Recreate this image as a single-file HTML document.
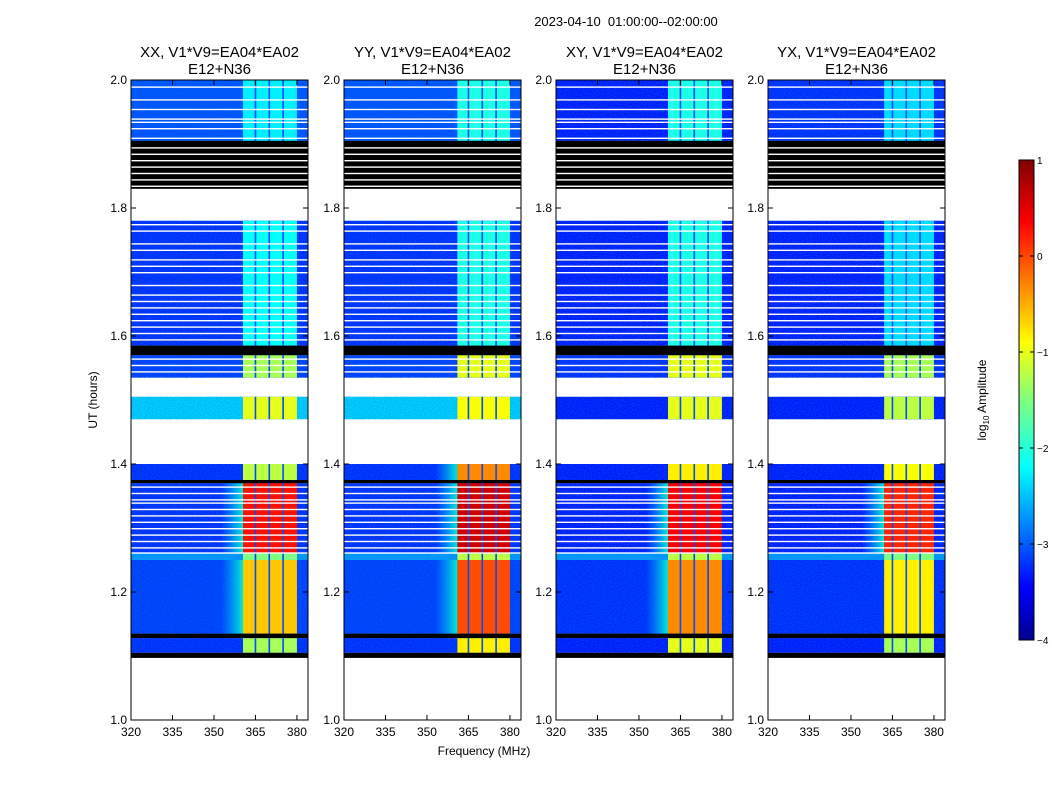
<!DOCTYPE html>
<html><head><meta charset="utf-8"><style>
body{margin:0;background:#fff;}
svg{display:block;font-family:"Liberation Sans",sans-serif;}
</style></head><body>
<svg id="fig" width="1050" height="800" xmlns="http://www.w3.org/2000/svg">
<defs>
<filter id="noise" x="0" y="0" width="100%" height="100%">
<feTurbulence type="fractalNoise" baseFrequency="0.9" numOctaves="1" seed="3"/>
<feColorMatrix type="matrix" values="0 0 0 0 0  0 0 0 0 0.2  0 0 0 0 0.8  0 0 0 -2.2 1.6"/>
</filter>
<linearGradient id="skirt" x1="0" y1="0" x2="1" y2="0">
<stop offset="0" stop-color="#00c8ff" stop-opacity="0"/><stop offset="1" stop-color="#00ffd0" stop-opacity="0.9"/>
</linearGradient>
<linearGradient id="cbar" x1="0" y1="1" x2="0" y2="0">
<stop offset="0" stop-color="#00008f"/><stop offset="0.11" stop-color="#0000ff"/>
<stop offset="0.36" stop-color="#00ffff"/><stop offset="0.5" stop-color="#80ff80"/><stop offset="0.62" stop-color="#ffff00"/>
<stop offset="0.87" stop-color="#ff0000"/><stop offset="1" stop-color="#800000"/>
</linearGradient>
</defs>
<text x="626" y="26" font-size="13" text-anchor="middle" xml:space="preserve">2023-04-10  01:00:00--02:00:00</text>
<text x="484" y="755" font-size="12" text-anchor="middle">Frequency (MHz)</text>
<text transform="translate(97,400) rotate(-90)" font-size="12" text-anchor="middle">UT (hours)</text>
<g id="panels"></g>
<g id="colorbar"></g>
</svg>
<script>
const panelTitles=["XX, V1*V9=EA04*EA02","YY, V1*V9=EA04*EA02","XY, V1*V9=EA04*EA02","YX, V1*V9=EA04*EA02"];
const panelLefts=[131,344,556,768];
const segStart=[2.0,1.78,1.57,1.505,1.40,1.37,1.26,1.25,1.128];
const segEnd=[1.905,1.585,1.535,1.47,1.375,1.26,1.25,1.135,1.105];
const bgLevel=[[-3.0,-3.2,-3.1,-2.3,-3.2,-3.2,-2.6,-3.1,-3.2],[-3.0,-3.2,-3.1,-2.3,-3.2,-3.2,-2.6,-3.1,-3.2],[-3.3,-3.3,-3.2,-3.3,-3.3,-3.3,-2.6,-3.2,-3.3],[-3.2,-3.3,-3.2,-3.3,-3.3,-3.3,-2.6,-3.2,-3.3]];
const bandLevel=[[-2.2,-2.1,-1.3,-1.0,-1.2,0.3,-1.5,-0.6,-1.3],[-2.0,-2.0,-1.0,-0.9,-0.3,0.6,-1.2,0.0,-0.8],[-2.0,-2.0,-1.0,-1.0,-0.8,0.4,-1.2,-0.3,-1.0],[-2.3,-2.3,-1.3,-1.2,-0.9,0.2,-1.5,-0.8,-1.3]];
const bandStart=[360.5,361,360.5,362];
const bandEnd=[380,380,380,380];
const dividerFreqs=[365,370,375];
const blackStart=[1.905,1.585,1.375,1.135,1.105];
const blackEnd=[1.83,1.57,1.37,1.128,1.097];
const whiteLines=[1.99,1.97,1.955,1.94,1.935,1.925,1.91,1.895,1.885,1.875,1.865,1.855,1.845,1.835,1.775,1.765,1.745,1.735,1.72,1.71,1.70,1.68,1.665,1.655,1.645,1.635,1.625,1.615,1.605,1.595,1.565,1.555,1.545,1.365,1.355,1.345,1.34,1.33,1.32,1.31,1.30,1.29,1.28,1.27,1.262];
const xTicks=[320,335,350,365,380];
const yTicks=[2.0,1.8,1.6,1.4,1.2,1.0];
const cbTicks=[1,0,-1,-2,-3,-4];
const NS="http://www.w3.org/2000/svg";
const W=177,Y0=80,H=640,FMIN=320,FMAX=384;
function ys(t){return Y0+(2.0-t)*H;}
function jet(v){let x=(v+4)/5;x=Math.max(0,Math.min(1,x));
 const r=Math.max(0,Math.min(1,1.5-Math.abs(4*x-3))),g=Math.max(0,Math.min(1,1.5-Math.abs(4*x-2))),b=Math.max(0,Math.min(1,1.5-Math.abs(4*x-1)));
 return `rgb(${Math.round(r*255)},${Math.round(g*255)},${Math.round(b*255)})`;}
function mk(tag,attrs,parent){const e=document.createElementNS(NS,tag);for(const k in attrs)e.setAttribute(k,attrs[k]);parent.appendChild(e);return e;}
const root=document.getElementById('panels');
panelLefts.forEach((L,p)=>{
 const xs=f=>L+(f-FMIN)/(FMAX-FMIN)*W;
 const g=mk('g',{},root);
 
 
 const tt=mk('text',{x:L+W/2,y:57,'font-size':15,'text-anchor':'middle'},g);tt.textContent=panelTitles[p];
 
 
 const t2=mk('text',{x:L+W/2,y:74,'font-size':15,'text-anchor':'middle'},g);t2.textContent='E12+N36';
 
 
 segStart.forEach((s,i)=>{
  const y1=ys(s),y2=ys(segEnd[i]);
  const bg=mk('rect',{x:L,y:y1,width:W,height:y2-y1,fill:jet(bgLevel[p][i])},g);
  
  
  mk('rect',{x:L,y:y1,width:W,height:y2-y1,filter:'url(#noise)',opacity:0.45},g);
  const bx1=xs(bandStart[p]),bx2=xs(bandEnd[p]);
  if(bandLevel[p][i]>-0.7){
   const rp=mk('rect',{x:xs(bandStart[p]-8),y:y1,width:bx1-xs(bandStart[p]-8),height:y2-y1,fill:'url(#skirt)'},g);
   
   
  }
  const bd=mk('rect',{x:bx1,y:y1,width:bx2-bx1,height:y2-y1,fill:jet(bandLevel[p][i])},g);
  
  
  dividerFreqs.forEach(f=>{const d=mk('rect',{x:xs(f)-0.8,y:y1,width:1.6,height:y2-y1,fill:jet(-3.0)},g);
   
   });
 });
 blackStart.forEach((s,i)=>{const r=mk('rect',{x:L,y:ys(s),width:W,height:ys(blackEnd[i])-ys(s),fill:'#000'},g);
  
  });
 whiteLines.forEach(w=>{const r=mk('rect',{x:L,y:ys(w),width:W,height:1.4,fill:'#fff'},g);
  
  });
 const fr=mk('rect',{x:L,y:Y0,width:W,height:H,fill:'none',stroke:'#000','stroke-width':1},g);
 
 
 xTicks.forEach(v=>{const x=xs(v);
  mk('line',{x1:x,x2:x,y1:Y0+H,y2:Y0+H-5,stroke:'#000'},g);mk('line',{x1:x,x2:x,y1:Y0,y2:Y0+5,stroke:'#000'},g);
  const tx=mk('text',{x:x,y:Y0+H+16,'font-size':12,'text-anchor':'middle'},g);tx.textContent=v;
  
  });
 yTicks.forEach(v=>{const y=ys(v);
  mk('line',{x1:L,x2:L+5,y1:y,y2:y,stroke:'#000'},g);mk('line',{x1:L+W,x2:L+W-5,y1:y,y2:y,stroke:'#000'},g);
  const tx=mk('text',{x:L-4,y:y+4,'font-size':12,'text-anchor':'end'},g);tx.textContent=v.toFixed(1);
  
  });
});
const cb=document.getElementById('colorbar');
const CBT=160,CBH=480;
const cr=mk('rect',{x:1019,y:CBT,width:15,height:CBH,fill:'url(#cbar)',stroke:'#000'},cb);


cbTicks.forEach(v=>{const y=CBT+(1-v)/5*CBH;
 mk('line',{x1:1019,x2:1023,y1:y,y2:y,stroke:'#000'},cb);mk('line',{x1:1034,x2:1030,y1:y,y2:y,stroke:'#000'},cb);
 const tx=mk('text',{x:1037,y:y+4,'font-size':10},cb);tx.textContent=v<0?'\u2212'+(-v):v;
 
 });
const cl=mk('text',{transform:'translate(986,400) rotate(-90)','font-size':12,'text-anchor':'middle'},cb);
cl.innerHTML='log<tspan font-size="8" dy="3">10</tspan><tspan dy="-3"> Amplitude</tspan>';


</script>
</body></html>
